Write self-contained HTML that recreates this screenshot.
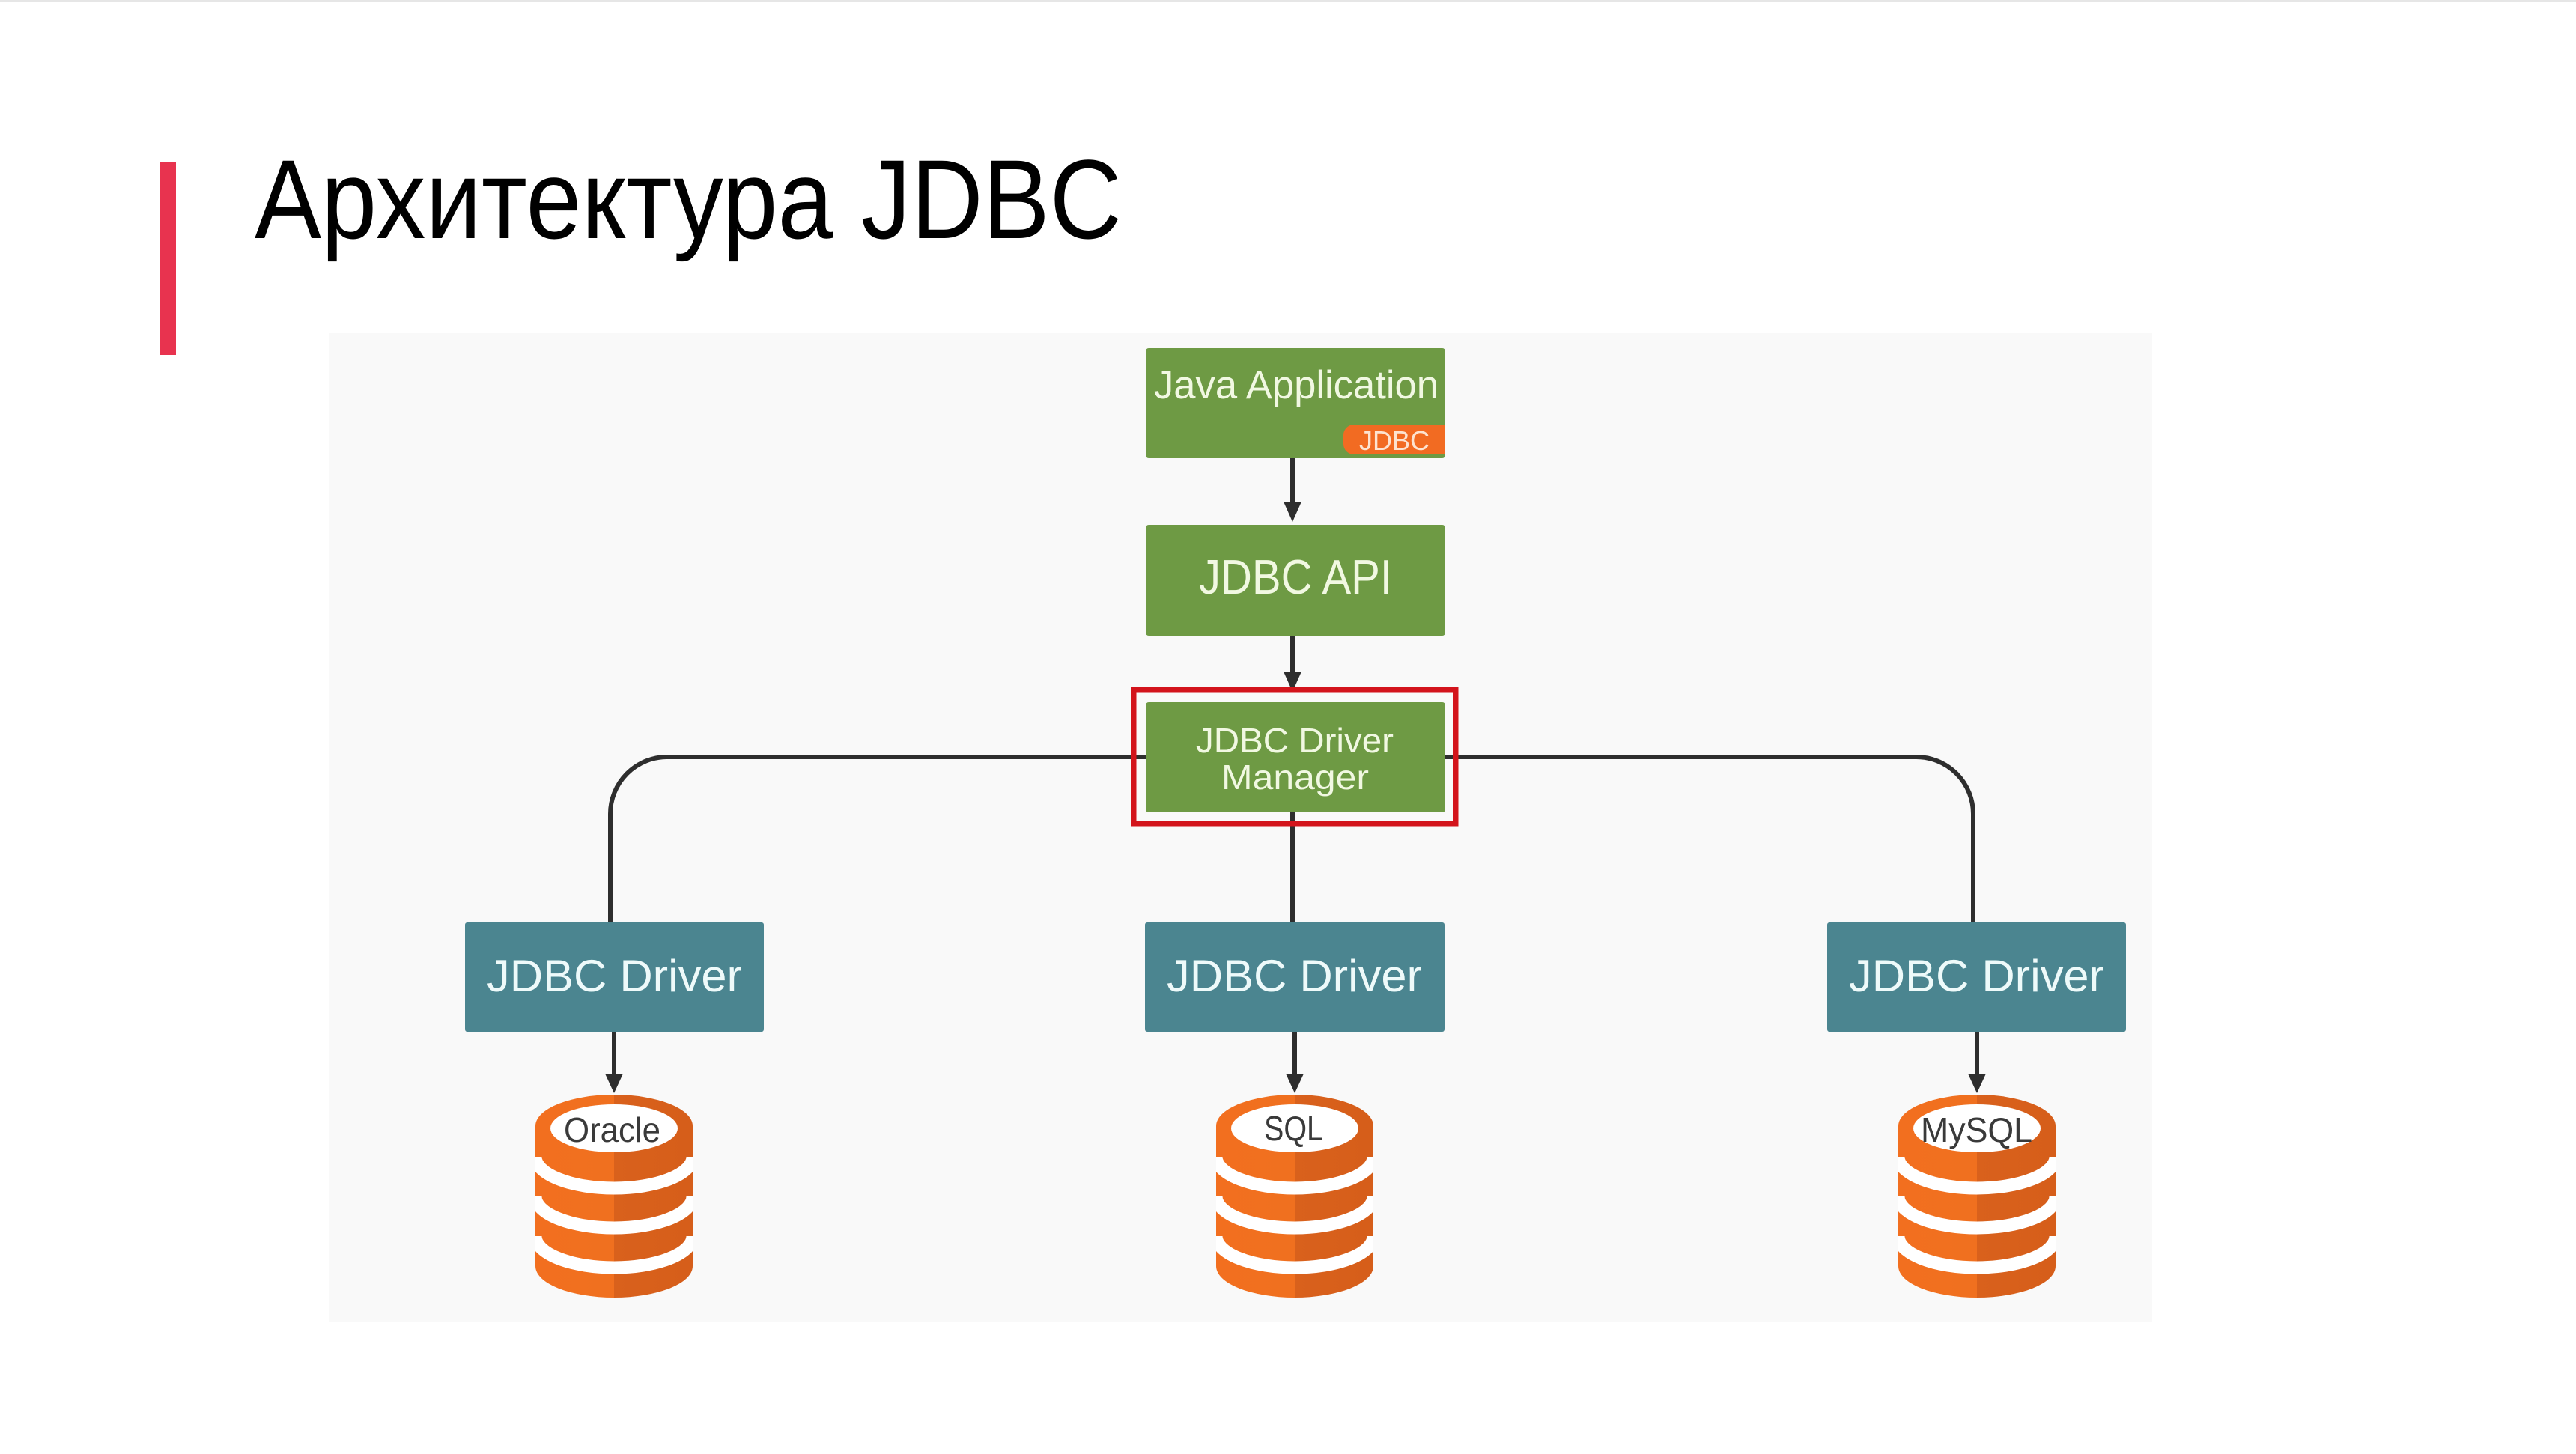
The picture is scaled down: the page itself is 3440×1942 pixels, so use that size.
<!DOCTYPE html>
<html><head><meta charset="utf-8"><style>
html,body{margin:0;padding:0;background:#fff;}
svg{display:block;}
text{font-family:"Liberation Sans",sans-serif;}
</style></head><body>
<svg width="3440" height="1942" viewBox="0 0 3440 1942" xmlns="http://www.w3.org/2000/svg">
<defs>
<linearGradient id="og" x1="0" x2="1" y1="0" y2="0">
<stop offset="0" stop-color="#f26f1f"/><stop offset="0.5" stop-color="#f0701f"/><stop offset="0.5" stop-color="#d9611c"/><stop offset="1" stop-color="#d65e1a"/>
</linearGradient>
<clipPath id="cc"><rect x="-105" y="1400" width="210" height="400"/></clipPath>
<g id="cyl">
<rect x="-105" y="1504" width="210" height="187" fill="url(#og)"/>
<ellipse cx="0" cy="1691" rx="105" ry="42" fill="url(#og)"/>
<ellipse cx="0" cy="1504" rx="105" ry="42" fill="url(#og)"/>
<g clip-path="url(#cc)">
<path d="M-105 1545 A105 42 0 0 0 105 1545" fill="none" stroke="#fff" stroke-width="17"/>
<path d="M-105 1598 A105 42 0 0 0 105 1598" fill="none" stroke="#fff" stroke-width="17"/>
<path d="M-105 1651 A105 42 0 0 0 105 1651" fill="none" stroke="#fff" stroke-width="17"/>
</g>
<ellipse cx="0" cy="1507" rx="85" ry="32" fill="#fff"/>
</g>
</defs>
<rect x="0" y="0" width="3440" height="1942" fill="#fff"/>
<rect x="0" y="0" width="3440" height="3" fill="#e6e6e6"/>
<rect x="213" y="217" width="22" height="257" fill="#e8334f"/>
<text x="340" y="318" font-size="150" fill="#000" textLength="1158" lengthAdjust="spacingAndGlyphs">Архитектура JDBC</text>
<rect x="439" y="445" width="2435" height="1321" fill="#f9f9f9"/>

<g stroke="#2e2e2e" stroke-width="6" fill="none">
<path d="M1726 612 V675"/>
<path d="M1726 849 V900"/>
<path d="M1530 1011 H891 A76 76 0 0 0 815 1087 V1232"/>
<path d="M1930 1011 H2559 A76 76 0 0 1 2635 1087 V1232"/>
<path d="M1726 1085 V1232"/>
<path d="M820 1378 V1438"/>
<path d="M1729 1378 V1438"/>
<path d="M2640 1378 V1438"/>
</g>
<g fill="#2e2e2e">
<polygon points="1714,670 1738,670 1726,697"/>
<polygon points="1714,897 1738,897 1726,924"/>
<polygon points="808,1434 832,1434 820,1460"/>
<polygon points="1717,1434 1741,1434 1729,1460"/>
<polygon points="2628,1434 2652,1434 2640,1460"/>
</g>

<rect x="1530" y="465" width="400" height="147" rx="4" fill="#6e9a44"/>
<text x="1541" y="532" font-size="53" fill="#f1f8e2" textLength="380" lengthAdjust="spacingAndGlyphs">Java Application</text>
<rect x="1794" y="567" width="136" height="40" rx="14" fill="#f26b22"/>
<rect x="1900" y="567" width="30" height="40" fill="#f26b22"/>
<text x="1815" y="601" font-size="36" fill="#fde3d0" textLength="94" lengthAdjust="spacingAndGlyphs">JDBC</text>

<rect x="1530" y="701" width="400" height="148" rx="4" fill="#6e9a44"/>
<text x="1601" y="793" font-size="65" fill="#f1f8e2" textLength="258" lengthAdjust="spacingAndGlyphs">JDBC API</text>

<rect x="1514" y="921" width="430" height="179" fill="none" stroke="#d3141c" stroke-width="7"/>
<rect x="1530" y="938" width="400" height="147" rx="4" fill="#6e9a44"/>
<text x="1597" y="1005" font-size="46" fill="#f1f8e2" textLength="264" lengthAdjust="spacingAndGlyphs">JDBC Driver</text>
<text x="1631" y="1054" font-size="46" fill="#f1f8e2" textLength="197" lengthAdjust="spacingAndGlyphs">Manager</text>

<rect x="621" y="1232" width="399" height="146" rx="3" fill="#4b8590"/>
<text x="650" y="1324" font-size="60" fill="#eefafa" textLength="341" lengthAdjust="spacingAndGlyphs">JDBC Driver</text>
<rect x="1529" y="1232" width="400" height="146" rx="3" fill="#4b8590"/>
<text x="1558" y="1324" font-size="60" fill="#eefafa" textLength="341" lengthAdjust="spacingAndGlyphs">JDBC Driver</text>
<rect x="2440" y="1232" width="399" height="146" rx="3" fill="#4b8590"/>
<text x="2469" y="1324" font-size="60" fill="#eefafa" textLength="341" lengthAdjust="spacingAndGlyphs">JDBC Driver</text>

<use href="#cyl" transform="translate(820,0)"/>
<use href="#cyl" transform="translate(1729,0)"/>
<use href="#cyl" transform="translate(2640,0)"/>
<text x="753" y="1525" font-size="46" fill="#3a3a3a" textLength="129" lengthAdjust="spacingAndGlyphs">Oracle</text>
<text x="1688" y="1523" font-size="46" fill="#3a3a3a" textLength="79" lengthAdjust="spacingAndGlyphs">SQL</text>
<text x="2565" y="1525" font-size="46" fill="#3a3a3a" textLength="149" lengthAdjust="spacingAndGlyphs">MySQL</text>
</svg>
</body></html>
